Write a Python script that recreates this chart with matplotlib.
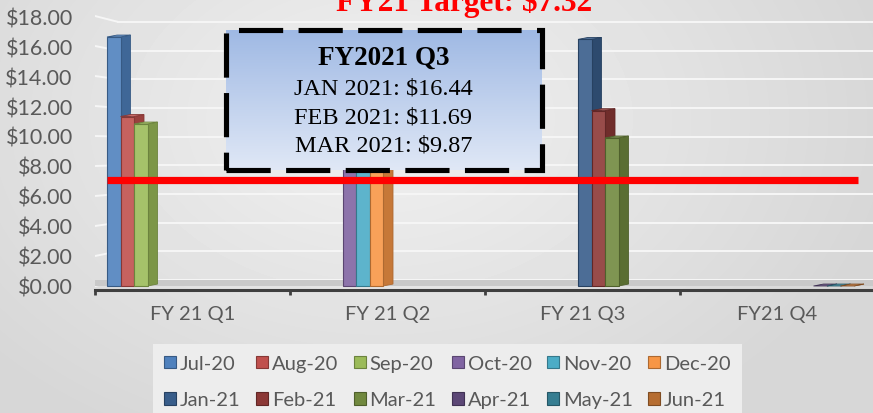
import numpy as np
import matplotlib
matplotlib.use('Agg')
import matplotlib.pyplot as plt
from matplotlib.patches import Polygon, Rectangle

# ---- data ----
quarters = ['FY 21 Q1', 'FY 21 Q2', 'FY 21 Q3', 'FY21 Q4']
months = ['Jul-20', 'Aug-20', 'Sep-20', 'Oct-20', 'Nov-20', 'Dec-20',
          'Jan-21', 'Feb-21', 'Mar-21', 'Apr-21', 'May-21', 'Jun-21']
q1_values = [16.6, 11.3, 10.8]    # Jul, Aug, Sep
q2_values = [8.9, 8.4, 7.8]       # Oct, Nov, Dec (tops hidden by the box)
q3_values = [16.44, 11.69, 9.87]  # Jan, Feb, Mar
q4_values = [0.0, 0.0, 0.0]       # Apr, May, Jun
target = 7.32
target_line = 7.1                 # where the red line sits in the picture
box_title = 'FY2021 Q3'
box_lines = ['JAN 2021: $16.44', 'FEB 2021: $11.69', 'MAR 2021: $9.87']
y_ticks = np.arange(0, 19, 2)

colors = ['#4F81BD', '#C0504D', '#9BBB59', '#8064A2', '#4BACC6', '#F79646',
          '#385D8A', '#8C3836', '#71893F', '#5C4776', '#357D91', '#B66D31']

quarter_values = [q1_values, q2_values, q3_values, q4_values]

W, H = 873, 414
fig = plt.figure(figsize=(W / 100, H / 100), dpi=100)

# soft grey background
bg = fig.add_axes([0, 0, 1, 1], zorder=-10)
yy, xx = np.mgrid[0:H, 0:W]
r = np.sqrt(((xx - 380) / 650.0) ** 2 + ((yy - 120) / 450.0) ** 2)
shade = np.clip(0.945 - 0.13 * r, 0.84, 0.945)
bg.imshow(shade, cmap='gray', vmin=0, vmax=1, aspect='auto',
          extent=[0, 1, 0, 1], transform=bg.transAxes)
bg.axis('off')


def px(x, y, w, h):
    # pixel box (from top-left) -> figure fraction rect
    return [x / W, 1 - (y + h) / H, w / W, h / H]


# main axes: 0 at y=287px, 15 px per dollar, x 95..875 px
ylo, yhi = -0.6, 18.4
top_px = 287 - 15 * yhi
bot_px = 287 - 15 * ylo
ax = fig.add_axes(px(95, top_px, 780, bot_px - top_px))
ax.set_xlim(0, 4)
ax.set_ylim(ylo, yhi)
ax.patch.set_alpha(0)
for s in ['top', 'right', 'left']:
    ax.spines[s].set_visible(False)
ax.spines['bottom'].set_position(('data', -0.27))
ax.spines['bottom'].set_color('#3f3f3f')
ax.spines['bottom'].set_linewidth(2.2)

# back wall gridlines (perspective) and floor
back = lambda v: 0.4 + 0.956 * v
wall_x = 0.118
for v in y_ticks:
    ax.plot([wall_x, 4], [back(v), back(v)], color='#f6f6f6', lw=1.4, zorder=1)
    ax.plot([0, wall_x], [v, back(v)], color='#f6f6f6', lw=1.4, zorder=1)
ax.fill_between([0, 4], 0, 0.4, color='#c9c9c9', zorder=1.5, lw=0)

ax.set_xticks(range(5))
ax.set_xticklabels([])
ax.set_xticks(np.arange(4) + 0.5, minor=True)
ax.set_xticklabels(quarters, minor=True)
ax.tick_params(axis='x', which='major', direction='out', length=3.5, width=2,
               color='#3f3f3f')
ax.tick_params(axis='x', which='minor', length=0, pad=11, labelsize=14.5,
               labelcolor='#595959')
ax.set_yticks(y_ticks)
ax.set_yticklabels(['${:.2f}'.format(v) for v in y_ticks])
ax.tick_params(axis='y', length=0, pad=16, labelsize=15.5, labelcolor='#595959')
for lab in ax.get_xticklabels(minor=True) + ax.get_yticklabels():
    lab.set_fontfamily('Lato')


def shade_col(c, f):
    rgb = np.array(matplotlib.colors.to_rgb(c))
    if f < 1:
        return tuple(rgb * f)
    return tuple(rgb + (1 - rgb) * (f - 1))


# 3D-ish clustered bars, 12 series per category
slot = 13.5 / 195
start = 12 / 195
dx, dy = 10 / 195, 0.13
z = 3
for k, month in enumerate(months):
    qi = k // 3
    v = quarter_values[qi][k % 3]
    x0 = qi + start + k * slot
    c = colors[k]
    edge = shade_col(c, 0.7)
    ax.add_patch(Polygon([(x0 + slot, 0), (x0 + slot + dx, dy),
                          (x0 + slot + dx, v + dy), (x0 + slot, v)],
                         closed=True, fc=shade_col(c, 0.8), ec=edge, lw=0.6,
                         zorder=z))
    ax.add_patch(Polygon([(x0, v), (x0 + dx, v + dy), (x0 + slot + dx, v + dy),
                          (x0 + slot, v)], closed=True, fc=shade_col(c, 1.15),
                         ec=edge, lw=0.6, zorder=z))
    if v > 0:
        ax.bar(x0, v, width=slot, align='edge', color=shade_col(c, 1.1),
               edgecolor=edge, linewidth=0.8, zorder=z + 0.5)
    z += 1

# target line
ax.plot([(107 - 95) / 195, (858 - 95) / 195], [target_line, target_line],
        color='#ff0000', lw=5.2, solid_capstyle='butt', zorder=40)

# legend, filled row by row (matplotlib fills columns first)
handles = [Rectangle((0, 0), 1, 1, fc=colors[k], ec=shade_col(colors[k], 0.7),
                     lw=0.8) for k in range(12)]
order = [r * 6 + c for c in range(6) for r in range(2)]
leg = fig.legend([handles[i] for i in order], [months[i] for i in order],
                 ncol=6, loc='upper left',
                 bbox_to_anchor=(153 / W, 1 - 345 / H), frameon=True,
                 prop={'family': 'Lato', 'size': 14.5}, handlelength=0.6,
                 handleheight=0.6, handletextpad=0.2, columnspacing=0.75,
                 labelspacing=0.95, borderpad=0.55, borderaxespad=0,
                 fancybox=False)
leg.get_frame().set_facecolor('#ededed')
leg.get_frame().set_edgecolor('none')
leg.get_frame().set_alpha(1)
for t in leg.get_texts():
    t.set_color('#595959')

# callout box with gradient fill and dashed border
bx = fig.add_axes(px(225.5, 30.5, 316, 140), zorder=50)
grad = np.linspace(0, 1, 200).reshape(-1, 1)
box_cmap = matplotlib.colors.LinearSegmentedColormap.from_list(
    'box', ['#9fb9e4', '#e0e8f6'])
bx.imshow(grad, cmap=box_cmap, aspect='auto', extent=[0, 1, 0, 1])
bx.set_xlim(0, 1)
bx.set_ylim(0, 1)
bx.axis('off')
bx.add_patch(Rectangle((0, 0), 1, 1, transform=bx.transAxes, fill=False,
                       ec='black', lw=3.7, ls=(0, (8.6, 3.0)),
                       joinstyle='miter', clip_on=False))
bx.text(0.5, 0.80, box_title, ha='center', va='center', fontsize=19.5,
        fontweight='bold', family='Liberation Serif')
for i, line in enumerate(box_lines):
    bx.text(0.5, 0.582 - i * 0.204, line, ha='center', va='center',
            fontsize=17.5, family='Liberation Serif')

# title (cut off by the top edge as in the picture)
fig.text(464 / W, 1 - 11 / H, 'FY21 Target: ${:.2f}'.format(target),
         ha='center', va='baseline', fontsize=22.5, fontweight='bold',
         family='Liberation Serif', color='#ff0000')

fig.savefig('out.png', dpi=100)
